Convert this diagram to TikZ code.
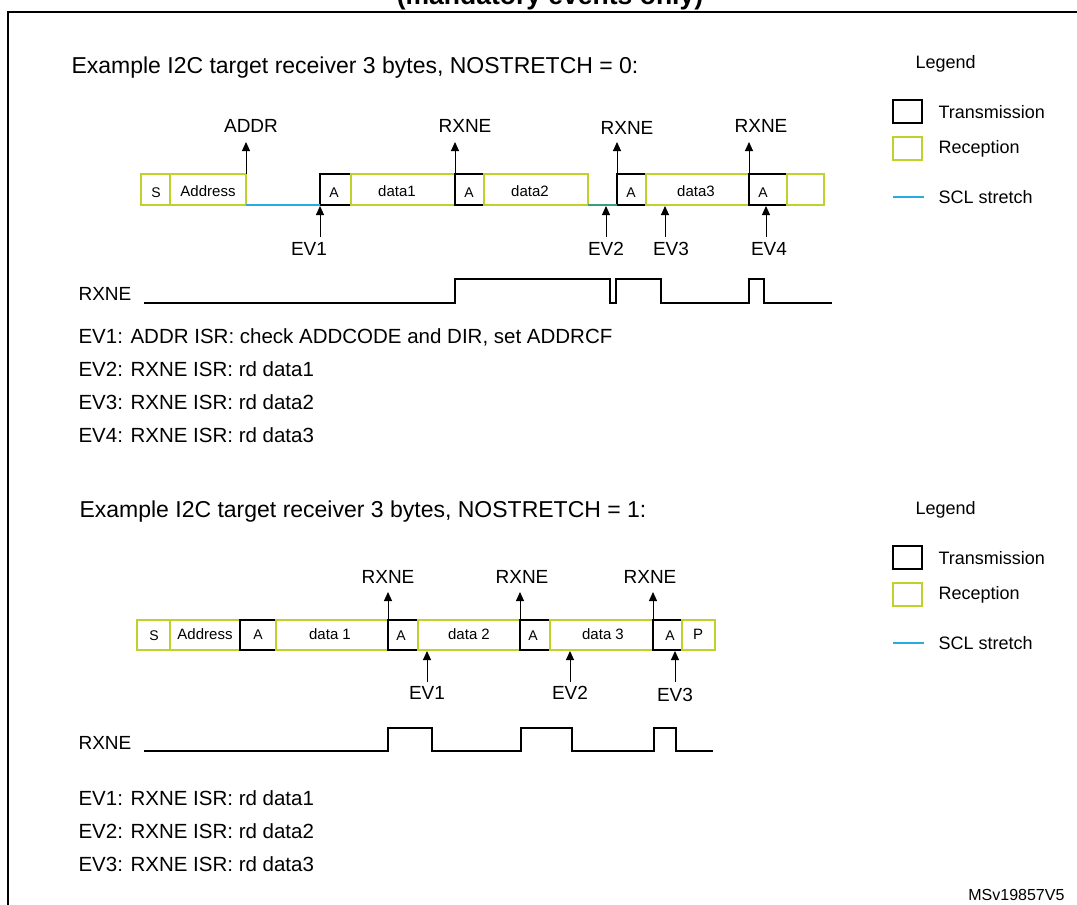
\documentclass[tikz,border=0pt]{standalone}
\usepackage{fontspec}
\setmainfont{Liberation Sans}
\usetikzlibrary{arrows.meta}
\definecolor{rxcol}{HTML}{BFD22B}
\definecolor{sclcol}{HTML}{29ABE2}
\definecolor{sclmix}{HTML}{3A9E7A}
\tikzset{
	rx/.style = {draw=rxcol, line width=1.6pt},
	tx/.style = {draw=black, line width=1.6pt},
	lbl/.style = {font=\fontsize{14}{16}\selectfont},
	dat/.style = {font=\fontsize{15}{18}\selectfont},
	ev/.style = {font=\fontsize{19}{22}\selectfont},
	txt/.style = {font=\fontsize{20.5}{24}\selectfont, anchor=west},
	lgd/.style = {font=\fontsize{18}{21}\selectfont, anchor=west},
	flag/.style = {-{Triangle[length=9pt,width=8pt]}, line width=1pt},
	wave/.style = {line width=2pt},
}
\begin{document}
\begin{tikzpicture}[x=1pt, y=-1pt]
	\useasboundingbox (0,0) rectangle (1077,905);
	\node[font=\bfseries\fontsize{26.5}{30}\selectfont, anchor=base] (ttl) at (550,4) {(mandatory events only)};
	\draw[line width=1.6pt] (8,920) -- (8,12) -- (1090,12);
	% NOSTRETCH = 0
	\node[txt, font=\fontsize{23}{27}\selectfont] (ex1) at (68,68) {Example I2C target receiver 3 bytes, NOSTRETCH = 0:};
	\draw[rx] (141,174) rectangle (170,205);
	\draw[rx] (170,174) rectangle (246,205);
	\draw[tx] (320,174) rectangle (351,205);
	\draw[rx] (351,174) rectangle (455,205);
	\draw[tx] (455,174) rectangle (484,205);
	\draw[rx] (484,174) rectangle (588,205);
	\draw[tx] (617,174) rectangle (646,205);
	\draw[rx] (646,174) rectangle (749,205);
	\draw[tx] (749,174) rectangle (787,205);
	\draw[rx] (787,174) rectangle (824,205);
	\draw[sclcol, line width=1.6pt] (246,205) -- (320,205);
	\draw[sclmix, line width=1.6pt] (588,205) -- (617,205);
	\node[lbl] (s1) at (156,193) {S};
	\node[dat] (ad1) at (208,191) {Address};
	\node[lbl] (a11) at (334,193) {A};
	\node[dat] (d11) at (397,191) {data1};
	\node[lbl] (a12) at (469,193) {A};
	\node[dat] (d12) at (530,191) {data2};
	\node[lbl] (a13) at (631,193) {A};
	\node[dat] (d13) at (696,191) {data3};
	\node[lbl] (a14) at (763,193) {A};
	\node[ev] (addr) at (251,126) {ADDR};
	\node[ev] (rx11) at (465,126) {RXNE};
	\node[ev] (rx12) at (627,128) {RXNE};
	\node[ev] (rx13) at (761,126) {RXNE};
	\foreach \x in {246, 455, 617, 749}
		\draw[flag] (\x,174) -- (\x,142);
	\node[ev] (ev11) at (309,249) {EV1};
	\node[ev] (ev12) at (606,249) {EV2};
	\node[ev] (ev13) at (671,249) {EV3};
	\node[ev] (ev14) at (769,249) {EV4};
	\foreach \x in {320, 606, 665, 766}
		\draw[flag] (\x,237) -- (\x,206);
	\node[ev, anchor=west] (w1) at (75,294) {RXNE};
	\draw[wave] (144,303) -- (455,303) -- (455,279) -- (610,279) -- (610,303) -- (616,303) -- (616,279)
		-- (661,279) -- (661,303) -- (749,303) -- (749,279) -- (764,279) -- (764,303) -- (832,303);
	\node[txt] (t11) at (75,337) {EV1: ADDR ISR: check ADDCODE and DIR, set ADDRCF};
	\node[txt] (t12) at (75,369) {EV2: RXNE ISR: rd data1};
	\node[txt] (t13) at (75,402) {EV3: RXNE ISR: rd data2};
	\node[txt] (t14) at (75,435) {EV4: RXNE ISR: rd data3};
	% NOSTRETCH = 1
	\node[txt, font=\fontsize{23}{27}\selectfont] (ex2) at (76,512) {Example I2C target receiver 3 bytes, NOSTRETCH = 1:};
	\draw[rx] (137,620) rectangle (170,650);
	\draw[rx] (170,620) rectangle (240,650);
	\draw[tx] (240,620) rectangle (276,650);
	\draw[rx] (276,620) rectangle (388,650);
	\draw[tx] (388,620) rectangle (418,650);
	\draw[rx] (418,620) rectangle (520,650);
	\draw[tx] (520,620) rectangle (550,650);
	\draw[rx] (550,620) rectangle (653,650);
	\draw[tx] (653,620) rectangle (682,650);
	\draw[rx] (682,620) rectangle (715,650);
	\node[lbl] (s2) at (154,636) {S};
	\node[dat] (ad2) at (205,634) {Address};
	\node[lbl] (a21) at (258,635) {A};
	\node[dat] (d21) at (330,634) {data 1};
	\node[lbl] (a22) at (401,636) {A};
	\node[dat] (d22) at (469,634) {data 2};
	\node[lbl] (a23) at (533,636) {A};
	\node[dat] (d23) at (603,634) {data 3};
	\node[lbl] (a24) at (670,636) {A};
	\node[dat] (p2) at (698,634) {P};
	\node[ev] (rx21) at (388,577) {RXNE};
	\node[ev] (rx22) at (522,577) {RXNE};
	\node[ev] (rx23) at (650,577) {RXNE};
	\foreach \x in {388, 520, 653}
		\draw[flag] (\x,620) -- (\x,592);
	\node[ev] (ev21) at (427,693) {EV1};
	\node[ev] (ev22) at (570,693) {EV2};
	\node[ev] (ev23) at (675,695) {EV3};
	\foreach \x in {427, 570, 675}
		\draw[flag] (\x,682) -- (\x,651);
	\node[ev, anchor=west] (w2) at (75,743) {RXNE};
	\draw[wave] (144,751) -- (388,751) -- (388,728) -- (432,728) -- (432,751) -- (521,751) -- (521,728)
		-- (572,728) -- (572,751) -- (654,751) -- (654,728) -- (676,728) -- (676,751) -- (713,751);
	\node[txt] (t21) at (75,798) {EV1: RXNE ISR: rd data1};
	\node[txt] (t22) at (75,831) {EV2: RXNE ISR: rd data2};
	\node[txt] (t23) at (75,864) {EV3: RXNE ISR: rd data3};
	% legends
	\foreach \y/\k in {0/1, 446/2} {
		\node[lgd] (lg\k) at (912,64+\y) {Legend};
		\draw[tx] (893,100+\y) rectangle (922,123+\y);
		\node[lgd] (lt\k) at (935,112+\y) {Transmission};
		\draw[rx] (893,137+\y) rectangle (922,160+\y);
		\node[lgd] (lr\k) at (935,149+\y) {Reception};
		\draw[sclcol, line width=2.5pt] (893,197+\y) -- (924,197+\y);
		\node[lgd] (ls\k) at (935,197+\y) {SCL stretch};
	}
	\node[font=\fontsize{16}{19}\selectfont, anchor=east] (ref) at (1068,895) {MSv19857V5};
\end{tikzpicture}
\end{document}
